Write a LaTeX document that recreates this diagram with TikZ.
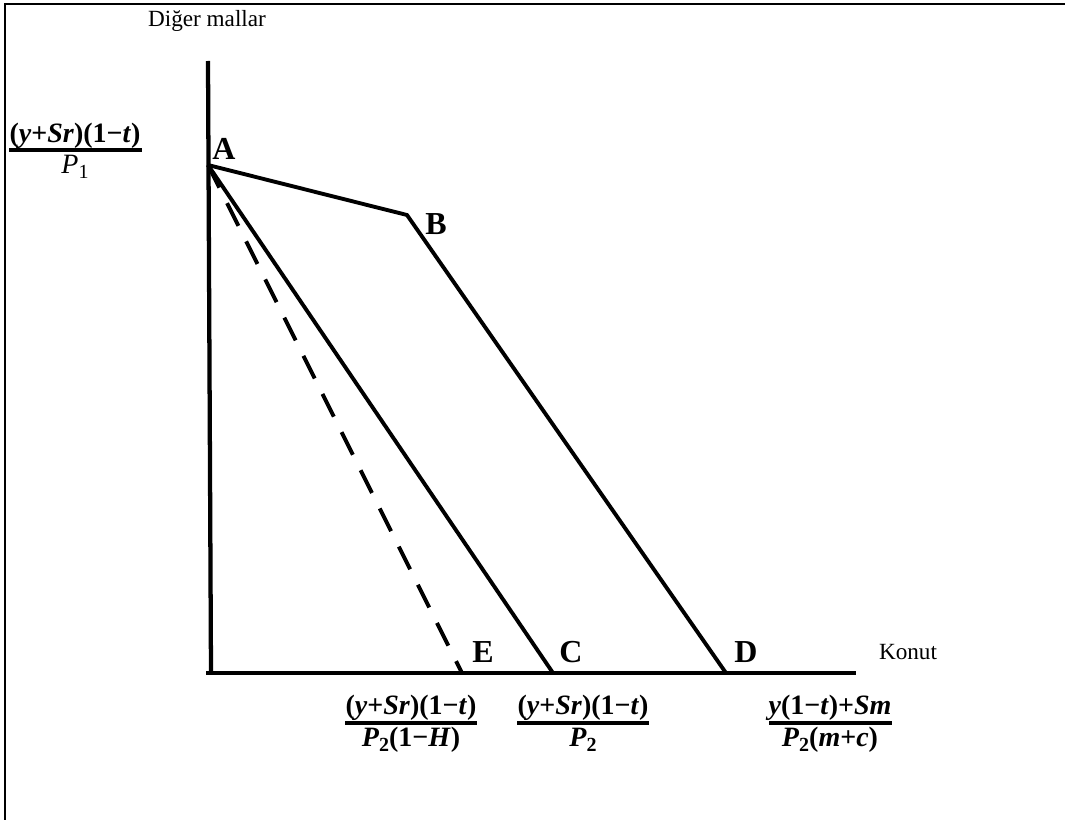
\documentclass[tikz,border=0pt]{standalone}
\usepackage{fontspec}
\setmainfont{Liberation Serif}
\begin{document}
\begin{tikzpicture}[x=0.75pt,y=-0.75pt,
  axis/.style={line width=3.2pt},
  budget/.style={line width=2.9pt, line join=miter},
  dashline/.style={line width=2.9pt, dash pattern=on 19pt off 13pt},
  frame/.style={line width=2pt},
  pt/.style={font=\fontsize{24}{27}\selectfont\bfseries, inner sep=0pt},
  txt/.style={font=\fontsize{17.4}{20}\selectfont, inner sep=0pt},
  fr/.style={font=\fontsize{21}{24}\selectfont\bfseries, inner sep=0pt},
  bar/.style={line width=2.6pt}]
\useasboundingbox (0,0) rectangle (1065,820);
% frame
\coordinate (f0) at (5,4);
\coordinate (f1) at (1065,4);
\coordinate (f2) at (5,820);
\draw[frame] (f1) -- (f0) -- (f2);
% axes
\coordinate (ytop) at (208,61);
\coordinate (O) at (211,673);
\coordinate (x0) at (206,673);
\coordinate (xend) at (856,673);
\draw[axis] (ytop) -- (O);
\draw[axis] (x0) -- (xend);
% points
\coordinate (A) at (208,165);
\coordinate (B) at (407,215);
\coordinate (C) at (553,673);
\coordinate (D) at (726,673);
\coordinate (E) at (462,673);
\draw[budget] (A) -- (B) -- (D);
\draw[budget] (A) -- (C);
\draw[dashline] (A) -- (E);
% point labels
\node[pt] (lA) at (224,149) {A};
\node[pt] (lB) at (436,224) {B};
\node[pt] (lE) at (483,652) {E};
\node[pt] (lC) at (571,652) {C};
\node[pt] (lD) at (746,652) {D};
% axis labels
\node[txt] (ylab) at (207,21) {Diğer mallar};
\node[txt] (xlab) at (908,652) {Konut};
% left fraction
\node[fr] (nA) at (75,136) {(\textit{y}+\textit{Sr})(1−\textit{t})};
\draw[bar] (9,150) -- (142,150);
\node[fr, font=\fontsize{21}{24}\selectfont] (dA) at (75,167) {\textit{P}\raisebox{-0.35ex}{\fontsize{15}{17}\selectfont 1}};
% E fraction
\node[fr] (nE) at (411,708) {(\textit{y}+\textit{Sr})(1−\textit{t})};
\draw[bar] (345,723) -- (477,723);
\node[fr] (dE) at (411,740) {\textit{P}\raisebox{-0.35ex}{\fontsize{15}{17}\selectfont\bfseries 2}(1−\textit{H})};
% C fraction
\node[fr] (nC) at (583,708) {(\textit{y}+\textit{Sr})(1−\textit{t})};
\draw[bar] (517,723) -- (649,723);
\node[fr] (dC) at (583,740) {\textit{P}\raisebox{-0.35ex}{\fontsize{15}{17}\selectfont\bfseries 2}};
% D fraction
\node[fr] (nD) at (830,708) {\textit{y}(1−\textit{t})+\textit{Sm}};
\draw[bar] (769,723) -- (892,723);
\node[fr] (dD) at (830,740) {\textit{P}\raisebox{-0.35ex}{\fontsize{15}{17}\selectfont\bfseries 2}(\textit{m}+\textit{c})};
\end{tikzpicture}
\end{document}
